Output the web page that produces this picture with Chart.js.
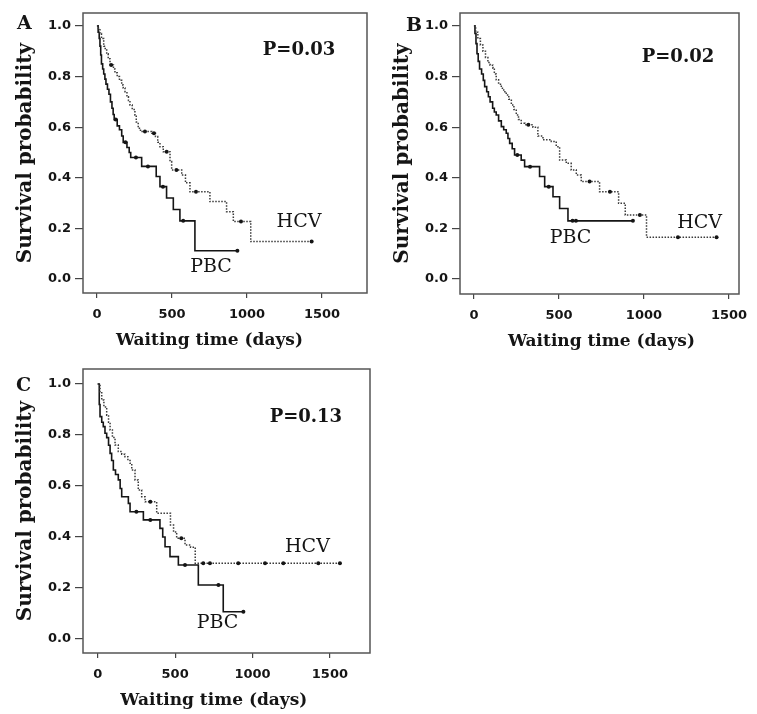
<!DOCTYPE html>
<html>
<head>
<meta charset="utf-8">
<style>
  body { margin: 0; background: #fff; }
  #wrap { position: relative; width: 757px; height: 714px; background: #fff; }
  .panel { position: absolute; }
</style>
</head>
<body>
<div id="wrap">
  <div class="panel" style="left:0;top:0;width:378px;height:355px"><canvas id="chartA"></canvas></div>
  <div class="panel" style="left:378px;top:0;width:379px;height:355px"><canvas id="chartB"></canvas></div>
  <div class="panel" style="left:0;top:355px;width:380px;height:359px"><canvas id="chartC"></canvas></div>
</div>

<script src="https://cdn.jsdelivr.net/npm/chart.js"></script>
<script>
// axis ticks
const xTicks = [0, 500, 1000, 1500];
const yTicks = [0, 0.2, 0.4, 0.6, 0.8, 1.0];

// panel A  (a point whose survival equals the previous one is a censored case)
const aPbcDays = [0, 8, 15, 20, 25, 30, 38, 45, 53, 60, 70, 80, 90, 100, 108, 115, 125, 135, 150, 165, 175, 190, 200, 215, 225, 260, 298, 340, 395, 420, 440, 464, 509, 553, 575, 653, 936];
const aPbcSurv = [1.0, 0.975, 0.95, 0.92, 0.885, 0.85, 0.83, 0.81, 0.79, 0.77, 0.75, 0.73, 0.70, 0.675, 0.65, 0.63, 0.63, 0.605, 0.59, 0.565, 0.54, 0.54, 0.52, 0.50, 0.48, 0.48, 0.445, 0.445, 0.405, 0.365, 0.365, 0.32, 0.275, 0.23, 0.23, 0.112, 0.112];
const aHcvDays = [0, 10, 20, 30, 45, 55, 65, 75, 87, 95, 110, 120, 135, 150, 165, 175, 187, 200, 210, 220, 235, 253, 262, 275, 290, 320, 365, 380, 390, 405, 420, 442, 465, 487, 498, 530, 565, 590, 620, 660, 753, 864, 909, 960, 1025, 1431];
const aHcvSurv = [1.0, 0.985, 0.97, 0.95, 0.92, 0.905, 0.89, 0.87, 0.846, 0.846, 0.83, 0.815, 0.80, 0.785, 0.767, 0.755, 0.74, 0.72, 0.705, 0.688, 0.67, 0.648, 0.62, 0.596, 0.583, 0.583, 0.576, 0.576, 0.563, 0.54, 0.523, 0.503, 0.503, 0.464, 0.431, 0.431, 0.411, 0.38, 0.345, 0.345, 0.306, 0.266, 0.227, 0.227, 0.148, 0.148];

// panel B
const bPbcDays = [0, 6, 12, 18, 25, 33, 45, 55, 63, 75, 85, 95, 110, 120, 131, 145, 161, 175, 190, 200, 210, 225, 239, 255, 278, 298, 330, 386, 416, 440, 465, 504, 553, 580, 600, 935];
const bPbcSurv = [1.0, 0.97, 0.93, 0.89, 0.86, 0.83, 0.81, 0.785, 0.76, 0.74, 0.72, 0.70, 0.675, 0.66, 0.648, 0.625, 0.602, 0.59, 0.576, 0.555, 0.536, 0.515, 0.49, 0.49, 0.47, 0.444, 0.444, 0.405, 0.365, 0.365, 0.325, 0.279, 0.23, 0.23, 0.23, 0.23];
const bHcvDays = [0, 10, 23, 38, 53, 68, 82, 95, 112, 120, 131, 145, 161, 175, 190, 205, 220, 235, 249, 262, 278, 300, 320, 347, 376, 406, 455, 484, 504, 543, 572, 602, 631, 680, 739, 800, 851, 890, 976, 1015, 1200, 1427];
const bHcvSurv = [1.0, 0.975, 0.95, 0.925, 0.90, 0.875, 0.855, 0.845, 0.833, 0.81, 0.787, 0.77, 0.754, 0.74, 0.727, 0.71, 0.688, 0.67, 0.648, 0.63, 0.615, 0.61, 0.61, 0.60, 0.565, 0.55, 0.543, 0.523, 0.47, 0.457, 0.431, 0.411, 0.385, 0.385, 0.345, 0.345, 0.299, 0.253, 0.253, 0.165, 0.165, 0.165];

// panel C
const cPbcDays = [0, 10, 15, 26, 36, 47, 58, 70, 80, 90, 101, 115, 133, 145, 155, 198, 209, 250, 295, 340, 402, 420, 435, 467, 521, 564, 650, 780, 811, 941];
const cPbcSurv = [1.0, 0.92, 0.872, 0.85, 0.833, 0.807, 0.79, 0.76, 0.728, 0.70, 0.663, 0.645, 0.624, 0.59, 0.558, 0.532, 0.499, 0.499, 0.467, 0.467, 0.434, 0.40, 0.362, 0.323, 0.29, 0.29, 0.212, 0.212, 0.107, 0.107];
const cHcvDays = [0, 15, 26, 40, 58, 70, 80, 95, 112, 133, 155, 176, 195, 209, 220, 241, 262, 284, 306, 340, 381, 470, 490, 510, 540, 564, 600, 630, 682, 725, 908, 1081, 1199, 1425, 1565];
const cHcvSurv = [1.0, 0.97, 0.937, 0.91, 0.878, 0.85, 0.82, 0.79, 0.761, 0.735, 0.725, 0.715, 0.70, 0.689, 0.663, 0.624, 0.584, 0.558, 0.538, 0.538, 0.493, 0.447, 0.42, 0.395, 0.395, 0.369, 0.36, 0.297, 0.297, 0.297, 0.297, 0.297, 0.297, 0.297, 0.297];

const ink = '#151515';

// frame + texts around each panel
const panelText = {
  id: 'panelText',
  afterDraw(chart, args, o) {
    const { ctx, chartArea: a, scales: { x, y } } = chart;
    ctx.save();
    ctx.strokeStyle = '#555';
    ctx.lineWidth = 1.5;
    ctx.strokeRect(a.left, a.top, a.right - a.left, a.bottom - a.top);

    ctx.fillStyle = ink;
    ctx.textBaseline = 'alphabetic';
    ctx.textAlign = 'left';
    ctx.font = 'bold 19px "DejaVu Serif"';
    ctx.fillText(o.letter, o.letterX, o.letterY);

    ctx.textBaseline = 'middle';
    ctx.textAlign = 'center';
    ctx.font = 'bold 18px "DejaVu Serif"';
    ctx.fillText(o.pText, x.getPixelForValue(o.pAt[0]), y.getPixelForValue(o.pAt[1]));

    ctx.font = '19px "DejaVu Serif"';
    ctx.fillText('HCV', x.getPixelForValue(o.hcvAt[0]), y.getPixelForValue(o.hcvAt[1]));
    ctx.fillText('PBC', x.getPixelForValue(o.pbcAt[0]), y.getPixelForValue(o.pbcAt[1]));

    ctx.font = 'bold 17px "DejaVu Serif"';
    ctx.fillText('Waiting time (days)', x.getPixelForValue(750), a.bottom + 48);

    ctx.translate(a.left - 57, (a.top + a.bottom) / 2);
    ctx.rotate(-Math.PI / 2);
    ctx.font = 'bold 20px "DejaVu Serif"';
    ctx.fillText('Survival probability', 0, 0);
    ctx.restore();
  }
};

function censorRadius(c) {
  const d = c.dataset.data, i = c.dataIndex;
  return i > 0 && d[i].y === d[i - 1].y ? 2 : 0;
}

function makePanel(id, box, pbcDays, pbcSurv, hcvDays, hcvSurv, text) {
  const el = document.getElementById(id);
  const w = el.parentNode.clientWidth, h = el.parentNode.clientHeight;
  return new Chart(el, {
    type: 'line',
    data: {
      datasets: [
        {
          label: 'HCV',
          data: hcvDays.map((t, i) => ({ x: t, y: hcvSurv[i] })),
          stepped: true,
          borderColor: '#3a3a3a',
          borderWidth: 1.5,
          borderDash: [1.5, 1.5],
          pointRadius: censorRadius,
          pointBackgroundColor: ink,
          pointBorderColor: ink,
          pointBorderWidth: 0
        },
        {
          label: 'PBC',
          data: pbcDays.map((t, i) => ({ x: t, y: pbcSurv[i] })),
          stepped: true,
          borderColor: ink,
          borderWidth: 1.6,
          pointRadius: censorRadius,
          pointBackgroundColor: ink,
          pointBorderColor: ink,
          pointBorderWidth: 0
        }
      ]
    },
    options: {
      responsive: true,
      maintainAspectRatio: false,
      animation: false,
      layout: { padding: { left: 0, top: box.top, right: w - box.right, bottom: 0 } },
      plugins: {
        legend: { display: false },
        tooltip: { enabled: false },
        panelText: text
      },
      scales: {
        x: {
          type: 'linear',
          min: box.xMin, max: box.xMax,
          afterFit: s => { s.height = h - box.bottom; },
          afterBuildTicks: s => { s.ticks = xTicks.map(v => ({ value: v })); },
          border: { display: false },
          grid: { drawOnChartArea: false, drawTicks: true, tickLength: 5, color: '#444', lineWidth: 1.2 },
          ticks: { color: ink, padding: 9, maxRotation: 0, callback: v => String(v), font: { family: 'DejaVu Sans', weight: 'bold', size: 13 } }
        },
        y: {
          min: box.yMin, max: box.yMax,
          afterFit: s => { s.width = box.left; },
          afterBuildTicks: s => { s.ticks = yTicks.map(v => ({ value: v })); },
          border: { display: false },
          grid: { drawOnChartArea: false, drawTicks: true, tickLength: 8, color: '#444', lineWidth: 1.2 },
          ticks: { color: ink, padding: 4, callback: v => v.toFixed(1), font: { family: 'DejaVu Sans', weight: 'bold', size: 13 } }
        }
      }
    },
    plugins: [panelText]
  });
}

makePanel('chartA', { left: 83, right: 367, top: 13, bottom: 293, xMin: -93, xMax: 1800, yMin: -0.055, yMax: 1.051 },
  aPbcDays, aPbcSurv, aHcvDays, aHcvSurv,
  { letter: 'A', letterX: 17, letterY: 29, pText: 'P=0.03', pAt: [1347, 0.905], hcvAt: [1347, 0.225], pbcAt: [760, 0.047] });

makePanel('chartB', { left: 82, right: 361, top: 13, bottom: 294, xMin: -82, xMax: 1559, yMin: -0.059, yMax: 1.051 },
  bPbcDays, bPbcSurv, bHcvDays, bHcvSurv,
  { letter: 'B', letterX: 28, letterY: 31, pText: 'P=0.02', pAt: [1200, 0.874], hcvAt: [1327, 0.22], pbcAt: [568, 0.162] });

makePanel('chartC', { left: 83, right: 370, top: 14, bottom: 298, xMin: -95, xMax: 1759, yMin: -0.055, yMax: 1.059 },
  cPbcDays, cPbcSurv, cHcvDays, cHcvSurv,
  { letter: 'C', letterX: 16, letterY: 36, pText: 'P=0.13', pAt: [1345, 0.87], hcvAt: [1355, 0.362], pbcAt: [774, 0.063] });
</script>
</body>
</html>
